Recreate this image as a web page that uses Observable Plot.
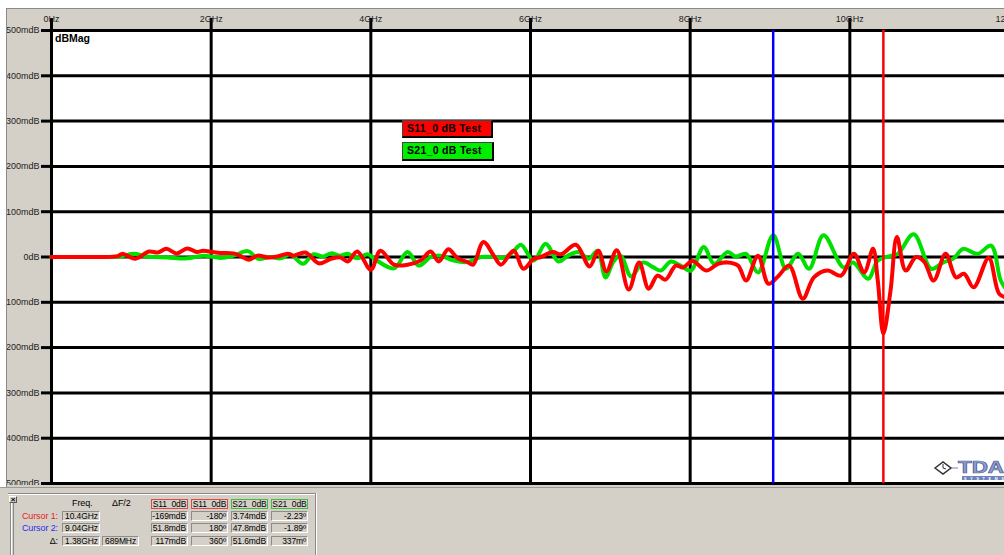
<!DOCTYPE html>
<html><head><meta charset="utf-8">
<script src="https://cdn.jsdelivr.net/npm/d3@7"></script>
<script src="https://cdn.jsdelivr.net/npm/@observablehq/plot@0.6"></script>
<style>
html,body{margin:0;padding:0;background:#fff;}
#app{position:relative;width:1004px;height:555px;overflow:hidden;background:#fff;font-family:"Liberation Sans",Arial,sans-serif;}
#frameBg{position:absolute;left:6px;top:8px;width:1100px;height:479px;background:#d4d0c8;border-left:1px solid #8a8a8a;border-top:1px solid #8a8a8a;}
#plotWrap{position:absolute;left:7px;top:9px;width:1003px;height:476px;}
.abs{position:absolute;white-space:nowrap;}
.legendBox{position:absolute;font-weight:bold;font-size:10.5px;letter-spacing:0.3px;color:#000;border:1px solid #444;border-right:2px solid #000;border-bottom:2px solid #000;box-sizing:border-box;padding-left:4px;}
#bottom{position:absolute;left:0;top:487px;width:1004px;height:68px;background:#d4d0c8;border-top:1px solid #9a9a9a;box-sizing:border-box;}
.cell{position:absolute;font-size:8.5px;letter-spacing:-0.1px;line-height:9px;height:10px;box-sizing:border-box;white-space:nowrap;overflow:hidden;color:#000;}
.sunk{border:1px solid;border-color:#8c8c8c #ffffff #ffffff #8c8c8c;text-align:right;padding-right:1px;}
.hdr{border:1px solid;text-align:center;height:10px;}
</style>
</head><body>
<div id="app">
  <div id="frameBg"></div>
  <div id="plotWrap"></div>
  <div class="abs" id="dbmag" style="left:55px;top:32px;font-size:10.5px;font-weight:bold;color:#000;">dBMag</div>
  <div id="bottom"></div>
</div>
<script>
// ---------- data ----------
const xTicks = [0, 2, 4, 6, 8, 10, 12];
const yTicks = [500, 400, 300, 200, 100, 0, -100, -200, -300, -400, -500];

const s11Freq = [0,0.36,0.61,0.83,0.89,1.05,1.22,1.33,1.44,1.57,1.70,1.82,1.90,2.02,2.12,2.28,2.37,2.47,2.58,2.71,2.83,2.96,3.03,3.18,3.35,3.50,3.62,3.71,3.83,4.00,4.12,4.29,4.46,4.62,4.75,4.85,4.97,5.09,5.21,5.28,5.41,5.54,5.63,5.79,5.91,6.04,6.13,6.28,6.38,6.57,6.74,6.85,6.95,7.08,7.23,7.36,7.48,7.59,7.69,7.82,7.91,8.03,8.20,8.35,8.47,8.60,8.70,8.85,8.98,9.10,9.24,9.41,9.55,9.72,9.89,10.05,10.18,10.29,10.35,10.42,10.51,10.59,10.70,10.83,10.93,11.05,11.20,11.33,11.43,11.55,11.74,11.87,11.97];
const s11Mag  = [0,0,0,2,7,-4,12,10,18,8,19,11,14,11,9,8,2,-6,3,-1,1,7,3,10,-14,-4,-1,-10,12,-28,14,-17,-17,-8,12,-10,17,-3,-11,-17,33,3,-17,14,-26,-4,0,11,6,27,-21,14,-32,15,-72,-12,-70,-41,-50,-19,-23,-9,-30,-15,-12,-19,-52,3,-59,-43,-19,-92,-45,-30,-41,7,-34,18,-52,-169,-74,44,-30,0,-10,-52,7,-45,-37,-67,-2,-81,-90];

const s21Freq = [0,0.61,0.86,1.03,1.20,1.45,1.70,1.90,2.12,2.28,2.46,2.59,2.74,2.87,2.99,3.15,3.28,3.40,3.50,3.62,3.71,3.83,3.96,4.06,4.29,4.46,4.60,4.75,4.87,5.04,5.21,5.38,5.54,5.66,5.78,5.88,6.04,6.19,6.35,6.47,6.60,6.73,6.84,6.94,7.04,7.13,7.26,7.41,7.54,7.63,7.76,7.88,8.01,8.17,8.30,8.47,8.57,8.70,8.85,9.04,9.20,9.35,9.49,9.67,9.92,10.04,10.23,10.35,10.48,10.60,10.80,11.02,11.17,11.30,11.42,11.60,11.77,11.89,11.97];
const s21Mag  = [0,0,1,7,1,-1,-3,3,-2,3,13,-4,0,-3,6,-15,6,1,8,3,7,-3,6,-6,-25,11,-19,0,3,-8,-11,0,0,-2,11,27,-8,29,-10,3,11,-4,14,-45,-10,3,-43,-12,-23,-30,-10,-19,-30,22,-15,11,1,7,-34,48,-26,7,-26,48,-23,-12,-48,-8,1,7,50,-26,-12,-3,18,7,25,-52,-74];

const cursor1Freq = [10.42];
const cursor2Freq = [9.04];

const traceNames = ["S11_0 dB Test", "S21_0 dB Test"];
const tableHeaders = ["S11_0dB", "S11_0dB", "S21_0dB", "S21_0dB"];
const rowLabels = ["Cursor 1:", "Cursor 2:", "\u0394:"];
const rowFreqs = ["10.4GHz", "9.04GHz", "1.38GHz"];
const rowDeltaF = ["", "", "689MHz"];
const rowValues = [
  ["-169mdB", "-180\u00ba", "3.74mdB", "-2.23\u00ba"],
  ["51.8mdB", "180\u00ba", "47.8mdB", "-1.89\u00ba"],
  ["117mdB", "360\u00ba", "51.6mdB", "337m\u00ba"]
];

// ---------- chart ----------
const s11 = s11Freq.map((f, i) => ({f, v: s11Mag[i]}));
const s21 = s21Freq.map((f, i) => ({f, v: s21Mag[i]}));
const RED = "#ff0000", GREEN = "#00e000";

const chart = Plot.plot({
  width: 1003, height: 476,
  marginLeft: 44, marginRight: 1, marginTop: 21, marginBottom: 2,
  style: {background: "transparent", overflow: "hidden", fontFamily: "'Liberation Sans', Arial, sans-serif"},
  x: {domain: [0, 12]},
  y: {domain: [-500, 500]},
  marks: [
    Plot.frame({fill: "white", stroke: null}),
    Plot.ruleY(yTicks, {stroke: "black", strokeWidth: 3}),
    Plot.ruleX(xTicks, {stroke: "black", strokeWidth: 3}),
    Plot.axisX(xTicks, {anchor: "top", label: null, tickSize: 13, tickPadding: -4, stroke: "black", strokeWidth: 3,
      fill: "#222", fontSize: 9, tickFormat: d => d === 0 ? "0Hz" : d + "GHz"}),
    Plot.axisY(yTicks, {anchor: "left", label: null, tickSize: 10, tickPadding: 2, stroke: "black", strokeWidth: 3,
      fill: "#222", fontSize: 9, tickFormat: d => d === 0 ? "0dB" : d + "mdB"}),
    Plot.line(s21, {x: "f", y: "v", stroke: GREEN, strokeWidth: 4, curve: "catmull-rom"}),
    Plot.line(s11, {x: "f", y: "v", stroke: RED, strokeWidth: 4, curve: "catmull-rom"}),
    Plot.ruleX(cursor2Freq, {stroke: "#0000ff", strokeWidth: 2.5}),
    Plot.ruleX(cursor1Freq, {stroke: RED, strokeWidth: 2.5})
  ]
});
document.getElementById("plotWrap").appendChild(chart);

// ---------- legend boxes ----------
const app = document.getElementById("app");
const legendColors = [RED, "#00ee00"];
const legendTops = [120, 142];
const legendW = [91, 92];
traceNames.forEach((name, i) => {
  const d = document.createElement("div");
  d.className = "legendBox";
  d.style.left = "402px";
  d.style.top = legendTops[i] + "px";
  d.style.width = legendW[i] + "px";
  d.style.height = (i === 0 ? 18 : 19) + "px";
  d.style.lineHeight = (i === 0 ? 14 : 15) + "px";
  d.style.background = legendColors[i];
  d.textContent = name;
  app.appendChild(d);
});

// ---------- TDA logo ----------
const logo = document.createElementNS("http://www.w3.org/2000/svg", "svg");
logo.setAttribute("width", "75"); logo.setAttribute("height", "24");
logo.style.position = "absolute"; logo.style.left = "932px"; logo.style.top = "458px";
logo.innerHTML = `
  <polygon points="3,10 11,4 19,10 11,16" fill="white" stroke="#333" stroke-width="1.5"/>
  <line x1="11" y1="10" x2="11" y2="6" stroke="#333" stroke-width="1"/>
  <line x1="11" y1="10" x2="14" y2="11" stroke="#333" stroke-width="1"/>
  <line x1="19" y1="10" x2="26" y2="10" stroke="#6d83bd" stroke-width="1"/>
  <text x="26" y="15" font-family="Liberation Sans, Arial" font-weight="bold" font-size="16" fill="#8fa0d0" stroke="#4e5f96" stroke-width="0.7" textLength="46" lengthAdjust="spacingAndGlyphs">TDA</text>
  <rect x="30" y="18" width="45" height="4" fill="#6d83bd"/>
  <text x="32" y="21.6" font-family="Liberation Sans, Arial" font-weight="bold" font-size="3.6" fill="white" textLength="40">SYSTEMS</text>`;
app.appendChild(logo);

// ---------- bottom cursor table ----------
const bottom = document.getElementById("bottom");
function cell(left, top, w, text, cls, extra) {
  const d = document.createElement("div");
  d.className = "cell " + (cls || "");
  d.style.left = left + "px"; d.style.top = top + "px";
  if (w) d.style.width = w + "px";
  d.textContent = text;
  if (extra) Object.assign(d.style, extra);
  bottom.appendChild(d);
  return d;
}
const ln = (l, t, w, h, c) => { const d = document.createElement("div"); Object.assign(d.style, {position: "absolute", left: l + "px", top: t + "px", width: w + "px", height: h + "px", background: c}); bottom.appendChild(d); };
ln(8, 5, 307, 1, "#8a8a8a"); ln(8, 6, 307, 1, "#ffffff");
ln(315, 5, 1, 63, "#8a8a8a"); ln(316, 5, 1, 63, "#ffffff");
ln(10, 15, 1, 53, "#8a8a8a"); ln(11, 15, 1, 53, "#ffffff"); ln(13, 15, 1, 53, "#8a8a8a");
cell(9, 8, 8, "\u00d7", "", {height: "7px", lineHeight: "6px", fontSize: "8px", textAlign: "center", border: "1px solid", borderColor: "#fff #555 #555 #fff", fontWeight: "bold"});
cell(72, 11, 22, "Freq.", "", {fontSize: "9px"});
cell(112, 11, 24, "\u0394F/2", "", {fontSize: "9px"});
const colX = [151, 191, 231, 271];
const hdrColors = ["#e04848", "#e04848", "#3cc03c", "#3cc03c"];
tableHeaders.forEach((h, i) => cell(colX[i], 11, 37, h, "hdr", {borderColor: hdrColors[i], lineHeight: "8px"}));
const rowTops = [23, 35, 48];
const rowColors = ["#e82020", "#2a2ae8", "#000"];
rowLabels.forEach((lab, r) => {
  cell(14, rowTops[r], 44, lab, "", {textAlign: "right", color: rowColors[r], lineHeight: "10px", fontSize: "9px"});
  cell(62, rowTops[r], 38, rowFreqs[r], "sunk", {textAlign: "left", paddingLeft: "2px", lineHeight: "8px"});
  if (rowDeltaF[r]) cell(102, rowTops[r], 37, rowDeltaF[r], "sunk", {textAlign: "left", paddingLeft: "2px", lineHeight: "8px"});
  rowValues[r].forEach((v, c) => cell(colX[c], rowTops[r], 37, v, "sunk", {lineHeight: "8px"}));
});
</script>
</body></html>
